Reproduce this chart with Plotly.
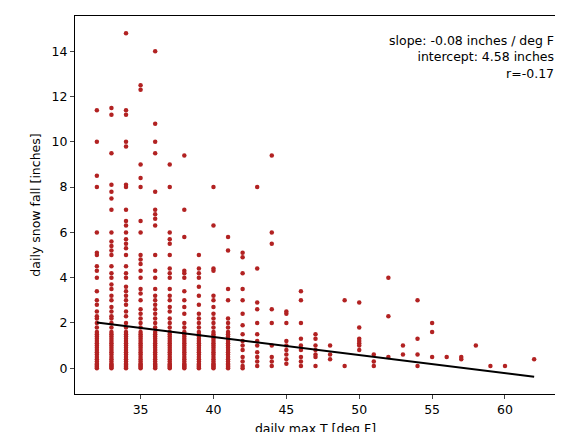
import plotly.graph_objects as go
import numpy as np

dense = [0.0,0.05,0.1,0.15,0.2,0.3,0.4,0.5,0.6,0.7,0.8,0.9,1.0,1.1,1.2,1.3,1.4,1.5,1.6,1.8,2.0]
snow_by_temp = {
    32: [11.4,10.0,8.5,8.0,6.0,5.1,5.0,4.5,4.3,4.0,3.4,3.0,2.8,2.5,2.3,2.2] + dense,
    33: [11.5,11.2,9.5,8.1,7.8,7.5,7.0,6.0,5.6,5.4,5.2,5.0,4.5,4.2,4.0,3.7,3.5,3.2,3.0,2.7,2.5,2.3,2.2] + dense,
    34: [14.8,11.4,11.2,10.0,9.8,8.1,8.0,7.0,6.5,6.3,6.0,5.7,5.5,5.3,5.0,4.5,4.2,4.0,3.6,3.4,3.2,3.0,2.8,2.5,2.3] + dense,
    35: [12.5,12.3,9.0,8.4,8.0,6.5,6.0,5.0,4.8,4.6,4.3,4.0,3.5,3.3,3.0,2.6,2.4,2.2] + dense,
    36: [14.0,10.8,10.0,9.5,7.8,7.0,6.8,6.6,6.3,5.0,4.3,4.0,3.5,3.2,3.0,2.8,2.6,2.4,2.2] + dense,
    37: [9.0,8.0,6.0,5.7,5.5,5.0,4.4,4.2,4.0,3.5,3.2,3.0,2.7,2.5,2.2] + dense,
    38: [9.4,7.0,5.8,4.3,4.2,4.0,3.4,3.0,2.7,2.4] + dense,
    39: [5.0,4.4,4.2,4.0,3.6,3.2,2.8,2.4,2.2] + dense,
    40: [8.0,6.3,4.4,4.3,3.2,3.0,2.7,2.4,2.2] + dense,
    41: [5.8,5.2,3.5,3.0,2.2] + dense,
    42: [5.1,4.9,4.2,3.5,3.0,2.4,1.9,1.5,1.2,1.0,0.8,0.5,0.3,0.1,0.0],
    43: [8.0,4.4,2.9,2.6,2.0,1.5,1.2,1.0,0.7,0.5,0.3,0.1],
    44: [9.4,6.0,5.5,2.6,2.0,1.0,0.5,0.3,0.1],
    45: [2.5,2.4,2.0,1.2,1.0,0.8,0.6,0.4,0.2],
    46: [3.4,3.0,2.0,1.3,1.0,0.8,0.5,0.3,0.1],
    47: [1.5,1.3,1.0,0.8,0.6,0.5,0.1],
    48: [1.0,0.6,0.4],
    49: [3.0,0.1],
    50: [2.9,1.8,1.3,1.2,1.1,1.0,0.8],
    51: [0.6,0.3,0.1],
    52: [4.0,2.3,0.5],
    53: [1.0,0.6],
    54: [3.0,1.3,0.6,0.1],
    55: [2.0,1.6,0.5],
    56: [0.5],
    57: [0.5,0.4],
    58: [1.0],
    59: [0.1],
    60: [0.1],
    62: [0.4],
}
slope = -0.08
intercept = 4.58
r_value = -0.17
line_x = [32, 62]

xs, ys = [], []
for t, vals in snow_by_temp.items():
    for v in vals:
        xs.append(t); ys.append(v)

fig = go.Figure()
fig.add_trace(go.Scatter(x=xs, y=ys, mode="markers",
    marker=dict(color="#b22222", size=4.5, line=dict(width=0)), showlegend=False))
fig.add_trace(go.Scatter(x=line_x, y=[intercept + slope*x for x in line_x], mode="lines",
    line=dict(color="black", width=2), showlegend=False))
fig.add_annotation(x=1, y=0.96, xref="paper", yref="paper", xanchor="right", yanchor="top",
    align="right", showarrow=False,
    text=f"slope: {slope:.2f} inches / deg F<br>intercept: {intercept:.2f} inches<br>r={r_value:.2f}",
    font=dict(size=12.5, color="black"))
ax = dict(showline=True, linecolor="black", mirror=True, ticks="outside", ticklen=4,
          showgrid=False, zeroline=False, tickfont=dict(size=12.5, color="black"), automargin=False)
fig.update_xaxes(range=[30.5, 63.5], tickvals=[35,40,45,50,55,60],
    title=dict(text="daily max T [deg F]", font=dict(size=12.5, color="black"), standoff=8), **ax)
fig.update_yaxes(range=[-1.14, 15.56], tickvals=list(range(0,15,2)),
    title=dict(text="daily snow fall [inches]", font=dict(size=12.5, color="black"), standoff=8), **ax)
fig.update_layout(width=563, height=432, margin=dict(l=67, r=15, t=8, b=46),
    plot_bgcolor="white", paper_bgcolor="white", font=dict(family="DejaVu Sans"))
fig.write_html("out.html")
